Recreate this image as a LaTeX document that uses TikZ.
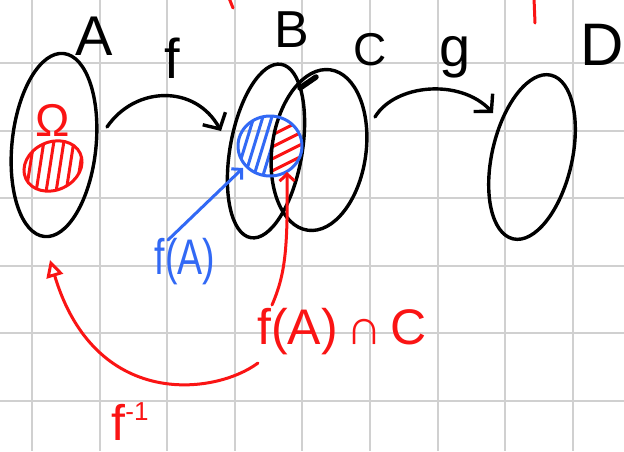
\documentclass[tikz,border=0pt]{standalone}
\usepackage{fontspec}
\setmainfont{Liberation Sans}
\usetikzlibrary{arrows.meta,shapes.geometric}
\definecolor{inkred}{RGB}{250,20,20}
\definecolor{inkblue}{RGB}{50,105,245}
\definecolor{gridgray}{RGB}{208,208,208}
\begin{document}
\begin{tikzpicture}[x=1pt,y=-1pt,
  ink/.style={line width=3.4pt, line cap=round, line join=round},
  redink/.style={ink, draw=inkred, line width=3pt},
  blueink/.style={ink, draw=inkblue, line width=3pt},
  gridline/.style={draw=gridgray, line width=2pt},
  setshape/.style={ellipse, draw, ink, inner sep=0pt, outer sep=0pt},
  lbl/.style={inner sep=0pt, outer sep=0pt},
  bigbarb/.style={-{Straight Barb[length=12pt,width=26pt]}},
  smallbarb/.style={-{Straight Barb[length=7pt,width=15pt]}},
]
\useasboundingbox (0,0) rectangle (624,451);
\fill[white] (0,0) rectangle (624,451);
% grid
\foreach \i in {0,...,8} \draw[gridline] ({32+67.6*\i},0) -- ({32+67.6*\i},451);
\foreach \j in {0,...,5} \draw[gridline] (0,{63+67.6*\j}) -- (624,{63+67.6*\j});

% hatching inside the red set in A
\begin{scope}
  \clip[rotate around={25:(53,166)}] (53,166) ellipse [x radius=30pt, y radius=24pt];
  \foreach \x in {30,40,...,80} \draw[redink] (\x+6,128) -- (\x-6,205);
\end{scope}

% hatching inside f(A), red on the part inside C
\begin{scope}
  \clip (270,146) ellipse [x radius=32pt, y radius=30pt];
  \foreach \x in {236,245,...,290} \draw[blueink] (\x+11,110) -- (\x-11,182);
  \clip[rotate around={-8:(319,150)}] (319,150) ellipse [x radius=47pt, y radius=81pt];
  \fill[white] (230,100) rectangle (310,190);
  \foreach \y in {128,140,...,190} \draw[redink] (268,\y+9) -- (308,\y-11);
\end{scope}

% sets
\node[setshape, minimum width=84pt, minimum height=184pt, rotate=-6] (setA) at (54,145) {};
\node[setshape, minimum width=72pt, minimum height=176pt, rotate=-10] (setB) at (266,151) {};
\node[setshape, minimum width=94pt, minimum height=162pt, rotate=-8] (setC) at (319,150) {};
\node[setshape, minimum width=80pt, minimum height=168pt, rotate=-13] (setD) at (532,157) {};
\node[ellipse, draw=inkblue, line width=3pt, inner sep=0pt, minimum width=64pt, minimum height=60pt] (fAset) at (270,146) {};
\node[ellipse, draw=inkred, line width=3pt, inner sep=0pt, minimum width=60pt, minimum height=48pt, rotate=25] (omegaset) at (53,166) {};
\draw[ink, line width=5.5pt] (300,88) -- (316,77);

% stray red marks at the top
\draw[redink] (229,-2) -- (233,8);
\draw[redink] (534,-2) -- (535,23);

% labels
\node[lbl, font=\fontsize{56}{56}\selectfont] (labA) at (94,36) {A};
\node[lbl, font=\fontsize{52}{52}\selectfont] (labB) at (292,30) {B};
\node[lbl, font=\fontsize{46}{46}\selectfont] (labC) at (370,50) {C};
\node[lbl, font=\fontsize{60}{60}\selectfont] (labD) at (602,45) {D};
\node[lbl, font=\fontsize{56}{56}\selectfont] (labf) at (172,58) {f};
\node[lbl, font=\fontsize{56}{56}\selectfont] (labg) at (455,57) {g};
\node[lbl, font=\fontsize{46}{46}\selectfont, text=inkred] (labOmega) at (53,120) {Ω};
\node[lbl, font=\fontsize{50}{50}\selectfont, text=inkblue, xscale=0.75] (labfA) at (185,262) {f(A)};
\node[lbl, font=\fontsize{50}{50}\selectfont, text=inkred] (labfAC) at (342,332) {f(A)\,∩\,C};
\node[lbl, font=\fontsize{50}{50}\selectfont, text=inkred] (labfinv) at (130,422) {f\raisebox{0.4em}{\fontsize{26}{26}\selectfont -1}};

% connector end points
\coordinate (fs) at (107,127);
\coordinate (fe) at (221,131);
\coordinate (gs) at (375,117);
\coordinate (ge) at (493,113);
\coordinate (bs) at (168,240);
\coordinate (be) at (243,168);
\coordinate (rs) at (272,305);
\coordinate (re) at (287,172);
\coordinate (is) at (258,363);
\coordinate (ie) at (50,260);

% connectors
\draw[ink, bigbarb] (fs) .. controls (135,86) and (195,84) .. (fe);
\draw[ink, bigbarb] (gs) .. controls (395,84) and (460,78) .. (ge);
\draw[blueink, smallbarb] (bs) -- (be);
\draw[redink, smallbarb] (rs) .. controls (285,275) and (288,250) .. (re);
\draw[redink, -{Triangle[open,length=17pt,width=17pt]}] (is) .. controls (215,395) and (95,410) .. (ie);
\end{tikzpicture}
\end{document}
